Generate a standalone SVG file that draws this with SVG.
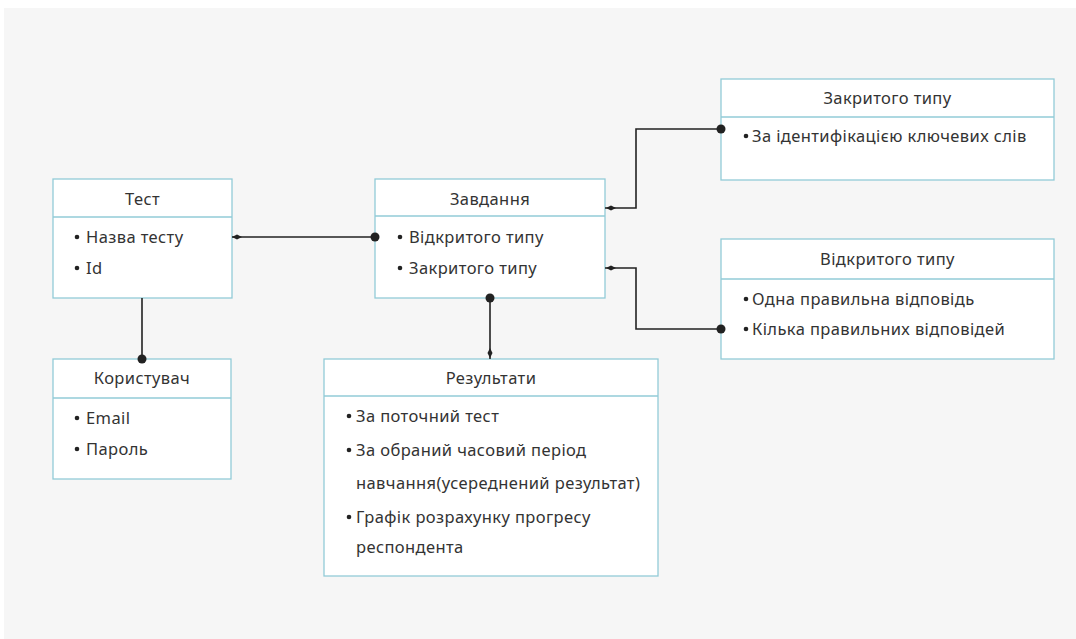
<svg xmlns="http://www.w3.org/2000/svg" width="1076" height="639" viewBox="0 0 1076 639">
<defs>
<style>
.box{fill:#fff;stroke:#92cbd7;stroke-width:1.3}
.div{stroke:#92cbd7;stroke-width:1.3}
.t{font-family:"Noto Sans","Liberation Sans",sans-serif;font-size:16.5px;letter-spacing:0.4px;fill:#333}
.c{text-anchor:middle}
.bul{fill:#222}
.ln{fill:none;stroke:#222;stroke-width:1.6}
.dot{fill:#222}
</style>
</defs>
<rect width="1076" height="639" fill="#fff"/>
<rect x="4" y="8" width="1072" height="631" fill="#f6f6f6"/>

<g id="node-test">
<rect class="box" x="53" y="179" width="179" height="119"/>
<line class="div" x1="53" y1="217" x2="232" y2="217"/>
<text class="t c" x="142.5" y="205">Тест</text>
<circle class="bul" cx="77" cy="237" r="2.3"/>
<text class="t" x="86" y="243">Назва тесту</text>
<circle class="bul" cx="77" cy="268" r="2.3"/>
<text class="t" x="86" y="274">Id</text>
</g>

<g id="node-zavdannia">
<rect class="box" x="375" y="179" width="230" height="119"/>
<line class="div" x1="375" y1="216" x2="605" y2="216"/>
<text class="t c" x="490" y="205">Завдання</text>
<circle class="bul" cx="400" cy="237" r="2.3"/>
<text class="t" x="409" y="243">Відкритого типу</text>
<circle class="bul" cx="400" cy="268" r="2.3"/>
<text class="t" x="409" y="274">Закритого типу</text>
</g>

<g id="node-zakrytoho">
<rect class="box" x="721" y="79" width="333" height="101"/>
<line class="div" x1="721" y1="117" x2="1054" y2="117"/>
<text class="t c" x="887.5" y="104">Закритого типу</text>
<circle class="bul" cx="746" cy="136" r="2.3"/>
<text class="t" x="752" y="142">За ідентифікацією ключевих слів</text>
</g>

<g id="node-vidkrytoho">
<rect class="box" x="721" y="239" width="333" height="120"/>
<line class="div" x1="721" y1="279" x2="1054" y2="279"/>
<text class="t c" x="887.5" y="265">Відкритого типу</text>
<circle class="bul" cx="746" cy="299" r="2.3"/>
<text class="t" x="752" y="305">Одна правильна відповідь</text>
<circle class="bul" cx="746" cy="329" r="2.3"/>
<text class="t" x="752" y="335">Кілька правильних відповідей</text>
</g>

<g id="node-korystuvach">
<rect class="box" x="53" y="359" width="178" height="120"/>
<line class="div" x1="53" y1="398" x2="231" y2="398"/>
<text class="t c" x="142" y="384">Користувач</text>
<circle class="bul" cx="77" cy="418" r="2.3"/>
<text class="t" x="86" y="424">Email</text>
<circle class="bul" cx="77" cy="449" r="2.3"/>
<text class="t" x="86" y="455">Пароль</text>
</g>

<g id="node-rezultaty">
<rect class="box" x="324" y="359" width="334" height="217"/>
<line class="div" x1="324" y1="396" x2="658" y2="396"/>
<text class="t c" x="491" y="384">Результати</text>
<circle class="bul" cx="349" cy="416" r="2.3"/>
<text class="t" x="356" y="422">За поточний тест</text>
<circle class="bul" cx="349" cy="450" r="2.3"/>
<text class="t" x="356" y="456">За обраний часовий період</text>
<text class="t" x="356" y="489">навчання(усереднений результат)</text>
<circle class="bul" cx="349" cy="517" r="2.3"/>
<text class="t" x="356" y="523">Графік розрахунку прогресу</text>
<text class="t" x="356" y="553">респондента</text>
</g>

<g id="connectors">
<path class="ln" d="M232 237 H375"/>
<path class="dot" d="M232 237 L237 234.5 L242 237 L237 239.5 Z"/>
<circle class="dot" cx="375" cy="237" r="4.5"/>

<path class="ln" d="M142 298 V359"/>
<circle class="dot" cx="142" cy="359" r="4.5"/>

<path class="ln" d="M605 208 H636 V129 H721"/>
<path class="dot" d="M606 208 L611 205.5 L616 208 L611 210.5 Z"/>
<circle class="dot" cx="721" cy="129" r="4.5"/>

<path class="ln" d="M605 268 H636 V329 H721"/>
<path class="dot" d="M606 268 L611 265.5 L616 268 L611 270.5 Z"/>
<circle class="dot" cx="721" cy="329" r="4.5"/>

<path class="ln" d="M490 298 V359"/>
<circle class="dot" cx="490" cy="298" r="4.5"/>
<path class="dot" d="M490 348 L492.5 353 L490 358 L487.5 353 Z"/>
</g>
</svg>
